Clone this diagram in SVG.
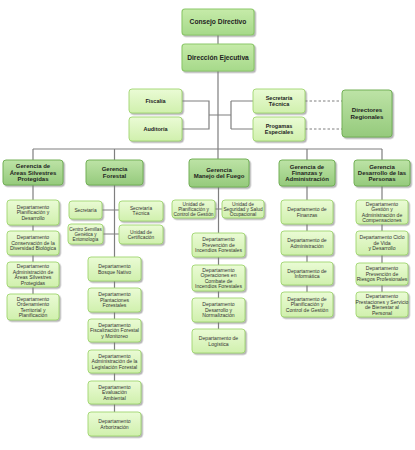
<svg xmlns="http://www.w3.org/2000/svg" width="415" height="450" viewBox="0 0 415 450">
<defs>
<linearGradient id="gd" x1="0" y1="0" x2="0" y2="1"><stop offset="0" stop-color="#eafbd5"/><stop offset="1" stop-color="#d0f0ad"/></linearGradient>
<linearGradient id="gg" x1="0" y1="0" x2="0" y2="1"><stop offset="0" stop-color="#bde3a6"/><stop offset="1" stop-color="#95ca7c"/></linearGradient>
<linearGradient id="gt" x1="0" y1="0" x2="0" y2="1"><stop offset="0" stop-color="#c6eba9"/><stop offset="1" stop-color="#a6d98a"/></linearGradient>
<filter id="sh" x="-20%" y="-20%" width="150%" height="150%"><feDropShadow dx="1.5" dy="1.5" stdDeviation="0.7" flood-color="#777" flood-opacity="0.55"/></filter>
</defs>
<style>
.d{fill:url(#gd);stroke:#9fd56f;stroke-width:0.9;filter:url(#sh)}
.g{fill:url(#gg);stroke:#72b057;stroke-width:1;filter:url(#sh)}
.t{fill:url(#gt);stroke:#8cc86a;stroke-width:1.1;filter:url(#sh)}
text{font-family:"Liberation Sans",Arial,sans-serif;text-anchor:middle}
.dt{font-size:5.1px;fill:#333}
.st{font-size:4.8px;fill:#333}
.gt{font-size:6px;font-weight:bold;fill:#1e1e1e}
.bt{font-size:5.5px;font-weight:bold;fill:#222}
.tt{font-size:6.7px;font-weight:bold;fill:#1e1e1e}
.c{fill:none;stroke:#7f7f7f;stroke-width:1.2}
.dash{fill:none;stroke:#7f7f7f;stroke-width:1;stroke-dasharray:2.5,2}
</style>
<rect width="415" height="450" fill="#ffffff"/>
<g id="connectors">
<path class="c" d="M218,35V44M218,71V159"/>
<path class="c" d="M182,101H209V129H182M209,115H231M231,101V129M231,101H253M231,129H253"/>
<path class="dash" d="M305,101H342M305,129H342"/>
<path class="c" d="M33,149H382M33,149V160M114.5,149V160M307,149V160M382,149V160"/>
<path class="c" d="M33,185V294"/>
<path class="c" d="M114.5,185V412M102,210H119M103,234H119"/>
<path class="c" d="M218.5,187V329M215,209H222"/>
<path class="c" d="M307,186V292"/>
<path class="c" d="M382,186V292"/>
</g>
<g id="consejo"><rect class="t" x="182" y="9" width="72" height="26" rx="3"/><text class="tt" x="218" y="24.3">Consejo Directivo</text></g>
<g id="direccion"><rect class="t" x="182" y="44" width="72" height="27" rx="3"/><text class="tt" x="218" y="59.8">Dirección Ejecutiva</text></g>
<g id="fiscalia"><rect class="d" x="129" y="89" width="53" height="24" rx="3"/><text class="bt" x="155.5" y="102.9">Fiscalía</text></g>
<g id="auditoria"><rect class="d" x="129" y="117" width="53" height="24" rx="3"/><text class="bt" x="155.5" y="130.9">Auditoría</text></g>
<g id="secretaria-tecnica"><rect class="d" x="253" y="89" width="52" height="24" rx="3"/><text class="bt" x="279" y="99.9">Secretaría<tspan x="279" dy="6">Técnica</tspan></text></g>
<g id="programas"><rect class="d" x="253" y="117" width="52" height="24" rx="3"/><text class="bt" x="279" y="127.9">Progamas<tspan x="279" dy="6">Especiales</tspan></text></g>
<g id="directores"><rect class="g" x="342" y="90" width="50" height="47" rx="3"/><text class="gt" style="font-size:6.2px" x="367" y="112.4">Directores<tspan x="367" dy="6.6">Regionales</tspan></text></g>
<g id="g-areas"><rect class="g" x="3" y="160" width="60" height="25" rx="3"/><text class="gt" x="33" y="168.3">Gerencia de<tspan x="33" dy="6.3">Áreas Silvestres</tspan><tspan x="33" dy="6.3">Protegidas</tspan></text></g>
<g id="g-forestal"><rect class="g" x="86" y="160" width="57" height="25" rx="3"/><text class="gt" x="114.5" y="171.45">Gerencia<tspan x="114.5" dy="6.3">Forestal</tspan></text></g>
<g id="g-fuego"><rect class="g" x="189" y="159" width="60" height="28" rx="3"/><text class="gt" x="219" y="171.95">Gerencia<tspan x="219" dy="6.3">Manejo del Fuego</tspan></text></g>
<g id="g-finanzas"><rect class="g" x="279" y="160" width="56" height="26" rx="3"/><text class="gt" x="307" y="168.8">Gerencia de<tspan x="307" dy="6.3">Finanzas y</tspan><tspan x="307" dy="6.3">Administración</tspan></text></g>
<g id="g-personas"><rect class="g" x="354" y="160" width="56" height="26" rx="3"/><text class="gt" x="382" y="168.8">Gerencia<tspan x="382" dy="6.3">Desarrollo de las</tspan><tspan x="382" dy="6.3">Personas</tspan></text></g>
<g id="d-planif-desarrollo"><rect class="d" x="7" y="200" width="52" height="25" rx="3"/><text class="dt" x="33" y="208.8">Departamento<tspan x="33" dy="5.5">Planificación y</tspan><tspan x="33" dy="5.5">Desarrollo</tspan></text></g>
<g id="d-conservacion"><rect class="d" x="7" y="231" width="52" height="24" rx="3"/><text class="dt" x="33" y="239.3">Departamento<tspan x="33" dy="5.5">Conservación de la</tspan><tspan x="33" dy="5.5">Diversidad Biológica</tspan></text></g>
<g id="d-admin-areas"><rect class="d" x="7" y="262" width="52" height="25" rx="3"/><text class="dt" x="33" y="268.05">Departamento<tspan x="33" dy="5.5">Administración de</tspan><tspan x="33" dy="5.5">Áreas Silvestres</tspan><tspan x="33" dy="5.5">Protegidas</tspan></text></g>
<g id="d-ordenamiento"><rect class="d" x="7" y="294" width="52" height="26" rx="3"/><text class="dt" x="33" y="300.55">Departamento<tspan x="33" dy="5.5">Ordenamiento</tspan><tspan x="33" dy="5.5">Territorial y</tspan><tspan x="33" dy="5.5">Planificación</tspan></text></g>
<g id="f-secretaria"><rect class="d" x="69" y="201" width="33" height="18" rx="3"/><text class="st" x="85.5" y="211.7">Secretaría</text></g>
<g id="f-secretaria-tecnica"><rect class="d" x="119" y="201" width="44" height="20" rx="3"/><text class="st" x="141" y="210.2">Secretaría<tspan x="141" dy="5">Técnica</tspan></text></g>
<g id="f-centro"><rect class="d" x="68" y="224" width="35" height="20" rx="3"/><text class="st" style="font-size:4.6px" x="85.5" y="230.5">Centro Semillas<tspan x="85.5" dy="5">Genética y</tspan><tspan x="85.5" dy="5">Entomología</tspan></text></g>
<g id="f-certificacion"><rect class="d" x="119" y="225" width="44" height="19" rx="3"/><text class="st" x="141" y="233.7">Unidad de<tspan x="141" dy="5">Certificación</tspan></text></g>
<g id="f-bosque"><rect class="d" x="88" y="257" width="53" height="24" rx="3"/><text class="dt" x="114.5" y="268.05">Departamento<tspan x="114.5" dy="5.5">Bosque Nativo</tspan></text></g>
<g id="f-plantaciones"><rect class="d" x="88" y="288" width="53" height="24" rx="3"/><text class="dt" x="114.5" y="296.3">Departamento<tspan x="114.5" dy="5.5">Plantaciones</tspan><tspan x="114.5" dy="5.5">Forestales</tspan></text></g>
<g id="f-fiscalizacion"><rect class="d" x="88" y="319" width="53" height="23" rx="3"/><text class="dt" x="114.5" y="326.8">Departamento<tspan x="114.5" dy="5.5">Fiscalización Forestal</tspan><tspan x="114.5" dy="5.5">y Monitoreo</tspan></text></g>
<g id="f-legislacion"><rect class="d" x="88" y="350" width="53" height="23" rx="3"/><text class="dt" x="114.5" y="357.8">Departamento<tspan x="114.5" dy="5.5">Administración de la</tspan><tspan x="114.5" dy="5.5">Legislación Forestal</tspan></text></g>
<g id="f-evaluacion"><rect class="d" x="88" y="381" width="53" height="23" rx="3"/><text class="dt" x="114.5" y="388.8">Departamento<tspan x="114.5" dy="5.5">Evaluación</tspan><tspan x="114.5" dy="5.5">Ambiental</tspan></text></g>
<g id="f-arborizacion"><rect class="d" x="88" y="412" width="53" height="24" rx="3"/><text class="dt" x="114.5" y="423.05">Departamento<tspan x="114.5" dy="5.5">Arborización</tspan></text></g>
<g id="u-planificacion"><rect class="d" x="172" y="200" width="43" height="18" rx="3"/><text class="st" x="193.5" y="205.7">Unidad de<tspan x="193.5" dy="5">Planificación y</tspan><tspan x="193.5" dy="5">Control de Gestión</tspan></text></g>
<g id="u-seguridad"><rect class="d" x="222" y="200" width="42" height="18" rx="3"/><text class="st" x="243" y="205.7">Unidad de<tspan x="243" dy="5">Seguridad y Salud</tspan><tspan x="243" dy="5">Ocupacional</tspan></text></g>
<g id="m-prevencion"><rect class="d" x="192" y="233" width="53" height="24" rx="3"/><text class="dt" x="218.5" y="241.3">Departamento<tspan x="218.5" dy="5.5">Prevención de</tspan><tspan x="218.5" dy="5.5">Incendios Forestales</tspan></text></g>
<g id="m-operaciones"><rect class="d" x="192" y="265" width="53" height="26" rx="3"/><text class="dt" x="218.5" y="271.55">Departamento<tspan x="218.5" dy="5.5">Operaciones en</tspan><tspan x="218.5" dy="5.5">Combate de</tspan><tspan x="218.5" dy="5.5">Incendios Forestales</tspan></text></g>
<g id="m-desarrollo"><rect class="d" x="192" y="298" width="53" height="24" rx="3"/><text class="dt" x="218.5" y="306.3">Departamento<tspan x="218.5" dy="5.5">Desarrollo y</tspan><tspan x="218.5" dy="5.5">Normalización</tspan></text></g>
<g id="m-logistica"><rect class="d" x="192" y="329" width="53" height="24" rx="3"/><text class="dt" x="218.5" y="340.05">Departamento de<tspan x="218.5" dy="5.5">Logística</tspan></text></g>
<g id="a-finanzas"><rect class="d" x="281" y="200" width="52" height="24" rx="3"/><text class="dt" x="307" y="211.05">Departamento de<tspan x="307" dy="5.5">Finanzas</tspan></text></g>
<g id="a-administracion"><rect class="d" x="281" y="231" width="52" height="24" rx="3"/><text class="dt" x="307" y="242.05">Departamento de<tspan x="307" dy="5.5">Administración</tspan></text></g>
<g id="a-informatica"><rect class="d" x="281" y="262" width="52" height="23" rx="3"/><text class="dt" x="307" y="272.55">Departamento de<tspan x="307" dy="5.5">Informática</tspan></text></g>
<g id="a-planificacion"><rect class="d" x="281" y="292" width="52" height="25" rx="3"/><text class="dt" x="307" y="300.8">Departamento de<tspan x="307" dy="5.5">Planificación y</tspan><tspan x="307" dy="5.5">Control de Gestión</tspan></text></g>
<g id="p-gestion"><rect class="d" x="356" y="200" width="52" height="24" rx="3"/><text class="dt" x="382" y="205.55">Departamento<tspan x="382" dy="5.5">Gestión y</tspan><tspan x="382" dy="5.5">Administración de</tspan><tspan x="382" dy="5.5">Compensaciones</tspan></text></g>
<g id="p-ciclo"><rect class="d" x="356" y="231" width="52" height="24" rx="3"/><text class="dt" x="382" y="239.3">Departamento Ciclo<tspan x="382" dy="5.5">de Vida</tspan><tspan x="382" dy="5.5">y Desarrollo</tspan></text></g>
<g id="p-riesgos"><rect class="d" x="356" y="263" width="52" height="22" rx="3"/><text class="dt" x="382" y="270.3">Departamento<tspan x="382" dy="5.5">Prevención de</tspan><tspan x="382" dy="5.5">Riesgos Profesionales</tspan></text></g>
<g id="p-prestaciones"><rect class="d" x="356" y="292" width="52" height="25" rx="3"/><text class="dt" x="382" y="298.05">Departamento<tspan x="382" dy="5.5">Prestaciones y Servicio</tspan><tspan x="382" dy="5.5">de Bienestar al</tspan><tspan x="382" dy="5.5">Personal</tspan></text></g>
</svg>
